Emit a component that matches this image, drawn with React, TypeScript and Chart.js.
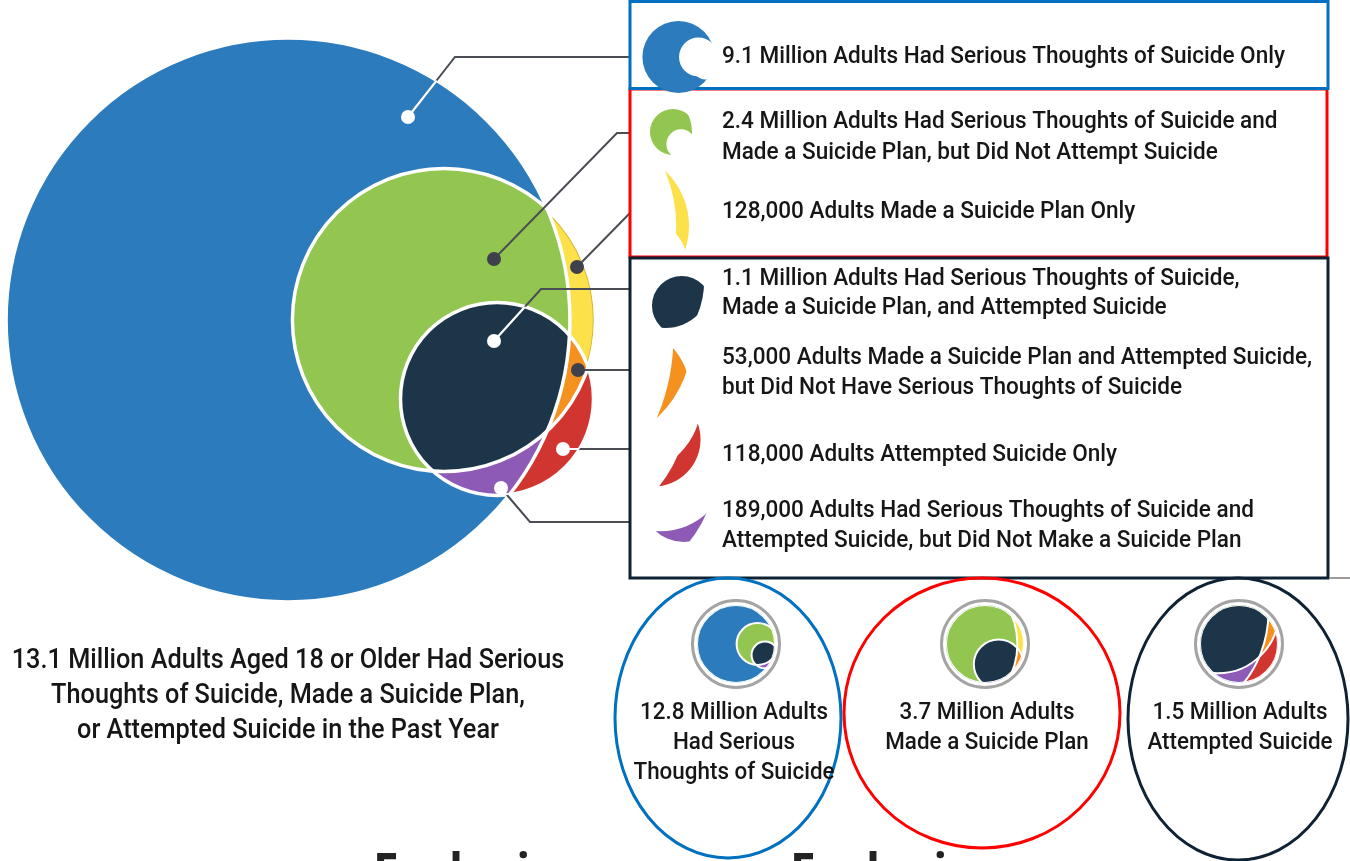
import { useEffect, useRef } from 'react';
import { Chart, registerables } from 'chart.js';

Chart.register(...registerables);

const CANVAS_W = 1350;
const CANVAS_H = 861;

// ---------------- data ----------------
const SET_TOTALS = [12.8, 3.7, 1.5]; // millions: thoughts, plan, attempt
const SET_CAPTIONS = [
  ['12.8 Million Adults', 'Had Serious', 'Thoughts of Suicide'],
  ['3.7 Million Adults', 'Made a Suicide Plan'],
  ['1.5 Million Adults', 'Attempted Suicide'],
];
const REGION_VALUES = [9.1, 2.4, 0.128, 1.1, 0.053, 0.118, 0.189]; // millions
// membership in [thoughts, plan, attempt]
const REGION_SETS = [
  [1, 0, 0],
  [1, 1, 0],
  [0, 1, 0],
  [1, 1, 1],
  [0, 1, 1],
  [0, 0, 1],
  [1, 0, 1],
];
const REGION_LABELS = [
  ['9.1 Million Adults Had Serious Thoughts of Suicide Only'],
  ['2.4 Million Adults Had Serious Thoughts of Suicide and', 'Made a Suicide Plan, but Did Not Attempt Suicide'],
  ['128,000 Adults Made a Suicide Plan Only'],
  ['1.1 Million Adults Had Serious Thoughts of Suicide,', 'Made a Suicide Plan, and Attempted Suicide'],
  ['53,000 Adults Made a Suicide Plan and Attempted Suicide,', 'but Did Not Have Serious Thoughts of Suicide'],
  ['118,000 Adults Attempted Suicide Only'],
  ['189,000 Adults Had Serious Thoughts of Suicide and', 'Attempted Suicide, but Did Not Make a Suicide Plan'],
];
const TOTAL_VALUE = 13.1;
const TOTAL_CAPTION = [
  `${TOTAL_VALUE} Million Adults Aged 18 or Older Had Serious`,
  'Thoughts of Suicide, Made a Suicide Plan,',
  'or Attempted Suicide in the Past Year',
];
const FOOTER_WORDS = ['Exclusive', 'Exclusive'];

// ---------------- layout & style ----------------
const REGION_COLORS = ['#2b7bbd', '#93c650', '#fce14b', '#1d3549', '#f4911f', '#d1352f', '#8d5bb6'];
const VENN_CENTERS = [
  { x: 288, y: 320 },
  { x: 444, y: 320 },
  { x: 497, y: 399 },
];
const RADIUS_PER_ROOT = 78.8; // px per sqrt(million) -> area proportional
const LEADER_PATHS = [
  [[408, 117], [455, 57], [630, 57]],
  [[494, 259], [617, 133], [630, 133]],
  [[577, 267], [630, 213]],
  [[494, 341], [541, 289], [630, 289]],
  [[578, 370], [630, 370]],
  [[563, 449], [630, 449]],
  [[501, 488], [530, 522], [630, 522]],
];
const DOT_ON_DARK = [true, false, false, true, false, true, true];
const LEGEND_TEXT_X = 722;
const LEGEND_BASELINES = [[63], [128, 159], [218], [285, 314], [364, 394], [461], [517, 547]];
const LEGEND_ICONS = [
  { x: 677, y: 57, w: 70, h: 72 },
  { x: 671, y: 132, w: 42, h: 62 },
  { x: 677, y: 210, w: 24, h: 82 },
  { x: 678, y: 302, w: 52, h: 54 },
  { x: 672, y: 383, w: 30, h: 78 },
  { x: 680, y: 455, w: 44, h: 62 },
  { x: 681, y: 528, w: 52, h: 28 },
];
const BOXES = [
  { x: 630, y: 89, w: 697, h: 168, color: '#ff0000' },
  { x: 630, y: 1.5, w: 698, h: 87, color: '#0070c0' },
  { x: 630, y: 258, w: 698, h: 320, color: '#0e2233' },
];
const SET_ICONS = [
  { x: 736, y: 644 },
  { x: 985, y: 644 },
  { x: 1239, y: 644 },
];
const SET_ICON_R = 39;
const SET_ELLIPSES = [
  { x: 728, y: 718, rx: 113, ry: 140, color: '#0070c0' },
  { x: 982, y: 713, rx: 138, ry: 135, color: '#ff0000' },
  { x: 1238, y: 719, rx: 110, ry: 141, color: '#0e2233' },
];
const SET_CAPTION_X = [734, 987, 1240];
const SET_CAPTION_Y0 = 719;
const SET_CAPTION_STEP = 30;
const TOTAL_CAPTION_X = 288;
const TOTAL_CAPTION_Y = [668, 703, 738];
const FOOTER_X = [373, 790];
const FOOTER_Y = 889;
const TEXT_COLOR = '#161616';
const FONT = 'Roboto';

type Circle = { x: number; y: number; r: number };
const BIG = 100000;

function getCircles(chart: any): Circle[] {
  const xs = chart.scales.x;
  const ys = chart.scales.y;
  const unit = xs.getPixelForValue(1) - xs.getPixelForValue(0);
  return VENN_CENTERS.map((c, i) => ({
    x: xs.getPixelForValue(c.x),
    y: ys.getPixelForValue(c.y),
    r: RADIUS_PER_ROOT * Math.sqrt(SET_TOTALS[i]) * unit,
  }));
}

function clipRegion(ctx: CanvasRenderingContext2D, circles: Circle[], m: number[]) {
  m.forEach((inside, i) => {
    const c = circles[i];
    ctx.beginPath();
    if (inside) {
      ctx.arc(c.x, c.y, c.r, 0, Math.PI * 2);
      ctx.clip();
    } else {
      ctx.rect(-BIG, -BIG, 2 * BIG, 2 * BIG);
      ctx.moveTo(c.x + c.r, c.y);
      ctx.arc(c.x, c.y, c.r, 0, Math.PI * 2);
      ctx.clip('evenodd');
    }
  });
}

function fillRegion(ctx: CanvasRenderingContext2D, circles: Circle[], m: number[], color: string) {
  ctx.save();
  clipRegion(ctx, circles, m);
  ctx.fillStyle = color;
  ctx.fillRect(-BIG, -BIG, 2 * BIG, 2 * BIG);
  ctx.restore();
}

function regionBox(circles: Circle[], m: number[]) {
  let x0 = Infinity, y0 = Infinity, x1 = -Infinity, y1 = -Infinity;
  for (let y = 0; y < CANVAS_H; y += 1) {
    for (let x = 0; x < 660; x += 1) {
      let ok = true;
      for (let i = 0; i < 3 && ok; i++) {
        const c = circles[i];
        const d = (x - c.x) ** 2 + (y - c.y) ** 2 < c.r * c.r;
        if (d !== !!m[i]) ok = false;
      }
      if (ok) {
        if (x < x0) x0 = x;
        if (x > x1) x1 = x;
        if (y < y0) y0 = y;
        if (y > y1) y1 = y;
      }
    }
  }
  return { x0, y0, x1, y1 };
}

function drawText(
  ctx: CanvasRenderingContext2D, s: string, x: number, y: number, size: number,
  align: CanvasTextAlign, sx: number, weight = '500', color = TEXT_COLOR, family = FONT,
) {
  ctx.save();
  ctx.font = `${weight} ${size}px ${family}`;
  ctx.fillStyle = color;
  ctx.textAlign = align;
  ctx.textBaseline = 'alphabetic';
  ctx.translate(x, y);
  ctx.scale(sx, 1);
  ctx.fillText(s, 0, 0);
  ctx.restore();
}

function measure(ctx: CanvasRenderingContext2D, s: string, size: number, weight = '500') {
  ctx.save();
  ctx.font = `${weight} ${size}px ${FONT}`;
  const w = ctx.measureText(s).width;
  ctx.restore();
  return w;
}

const vennPlugin = {
  id: 'venn',
  beforeDatasetsDraw(chart: any) {
    const ctx: CanvasRenderingContext2D = chart.ctx;
    const circles = getCircles(chart);
    REGION_SETS.forEach((m, k) => fillRegion(ctx, circles, m, REGION_COLORS[k]));
    // thin darker rim on the yellow crescent
    ctx.save();
    clipRegion(ctx, circles, REGION_SETS[2]);
    ctx.strokeStyle = '#d9b53c';
    ctx.lineWidth = 1.2;
    ctx.beginPath();
    ctx.arc(circles[1].x, circles[1].y, circles[1].r - 2.2, 0, Math.PI * 2);
    ctx.stroke();
    ctx.restore();
  },
  afterDatasetDraw(chart: any, args: any) {
    const ds = chart.data.datasets[args.index];
    if (ds.leaderOf === undefined || !DOT_ON_DARK[ds.leaderOf]) return;
    const ctx: CanvasRenderingContext2D = chart.ctx;
    const circles = getCircles(chart);
    const pts = args.meta.data;
    ctx.save();
    clipRegion(ctx, circles, REGION_SETS[ds.leaderOf]);
    ctx.strokeStyle = '#ffffff';
    ctx.lineWidth = 2.2;
    ctx.beginPath();
    pts.forEach((p: any, i: number) => (i === 0 ? ctx.moveTo(p.x, p.y) : ctx.lineTo(p.x, p.y)));
    ctx.stroke();
    ctx.restore();
  },
  afterDraw(chart: any) {
    const ctx: CanvasRenderingContext2D = chart.ctx;
    const circles = getCircles(chart);

    // legend boxes
    BOXES.forEach((b) => {
      ctx.save();
      ctx.strokeStyle = b.color;
      ctx.lineWidth = 3;
      ctx.strokeRect(b.x, b.y, b.w, b.h);
      ctx.restore();
    });
    ctx.save();
    ctx.strokeStyle = '#9a9a9a';
    ctx.lineWidth = 2;
    ctx.beginPath();
    ctx.moveTo(1330, 578);
    ctx.lineTo(1350, 578);
    ctx.stroke();
    ctx.restore();

    // legend icons (each region, scaled)
    REGION_SETS.forEach((m, k) => {
      const b = regionBox(circles, m);
      if (!isFinite(b.x0)) return;
      const bw = b.x1 - b.x0 + 1;
      const bh = b.y1 - b.y0 + 1;
      const I = LEGEND_ICONS[k];
      const s = Math.min(I.w / bw, I.h / bh);
      ctx.save();
      ctx.translate(I.x, I.y);
      ctx.scale(s, s);
      ctx.translate(-(b.x0 + b.x1) / 2, -(b.y0 + b.y1) / 2);
      fillRegion(ctx, circles, m, REGION_COLORS[k]);
      ctx.restore();
    });

    // legend texts
    const sx = 563 / measure(ctx, REGION_LABELS[0][0], 24);
    REGION_LABELS.forEach((lines, k) => {
      lines.forEach((ln, j) => drawText(ctx, ln, LEGEND_TEXT_X, LEGEND_BASELINES[k][j], 24, 'left', sx));
    });

    // total caption
    const capSize = (24 * 553) / (sx * measure(ctx, TOTAL_CAPTION[0], 24));
    TOTAL_CAPTION.forEach((ln, j) => drawText(ctx, ln, TOTAL_CAPTION_X, TOTAL_CAPTION_Y[j], capSize, 'center', sx));

    // set ellipses
    SET_ELLIPSES.forEach((e) => {
      ctx.save();
      ctx.strokeStyle = e.color;
      ctx.lineWidth = 3;
      ctx.beginPath();
      ctx.ellipse(e.x, e.y, e.rx, e.ry, 0, 0, Math.PI * 2);
      ctx.stroke();
      ctx.restore();
    });

    // set mini icons
    SET_ICONS.forEach((ic, i) => {
      const c = circles[i];
      const s = SET_ICON_R / c.r;
      ctx.save();
      ctx.translate(ic.x, ic.y);
      ctx.scale(s, s);
      ctx.translate(-c.x, -c.y);
      ctx.beginPath();
      ctx.arc(c.x, c.y, c.r, 0, Math.PI * 2);
      ctx.clip();
      REGION_SETS.forEach((m, k) => fillRegion(ctx, circles, m, REGION_COLORS[k]));
      ctx.strokeStyle = '#ffffff';
      ctx.lineWidth = 2 / s;
      circles.forEach((cc) => {
        ctx.beginPath();
        ctx.arc(cc.x, cc.y, cc.r, 0, Math.PI * 2);
        ctx.stroke();
      });
      ctx.restore();
      ctx.save();
      ctx.strokeStyle = '#a4a4a4';
      ctx.lineWidth = 3;
      ctx.beginPath();
      ctx.arc(ic.x, ic.y, SET_ICON_R + 4.5, 0, Math.PI * 2);
      ctx.stroke();
      ctx.restore();
    });

    // set captions
    const setSize = (24 * 188) / (sx * measure(ctx, SET_CAPTIONS[0][0], 24));
    SET_CAPTIONS.forEach((lines, i) => {
      lines.forEach((ln, j) =>
        drawText(ctx, ln, SET_CAPTION_X[i], SET_CAPTION_Y0 + j * SET_CAPTION_STEP, setSize, 'center', sx));
    });

    // footer words (cut off by page edge)
    FOOTER_WORDS.forEach((w, i) => drawText(ctx, w, FOOTER_X[i], FOOTER_Y, 50, 'left', 0.92, '700', '#232323', 'Open Sans'));
  },
};

export default function App() {
  const ref = useRef<HTMLCanvasElement | null>(null);

  useEffect(() => {
    document.body.style.margin = '0';
    const canvas = ref.current;
    if (!canvas) return;

    const setBubbles = {
      type: 'bubble',
      label: 'sets',
      data: SET_TOTALS.map((t, i) => ({ x: VENN_CENTERS[i].x, y: VENN_CENTERS[i].y, r: RADIUS_PER_ROOT * Math.sqrt(t) })),
      backgroundColor: 'rgba(0,0,0,0)',
      borderColor: '#ffffff',
      borderWidth: 3.5,
      order: 3,
    };
    const leaderLines = LEADER_PATHS.map((p, k) => ({
      type: 'line',
      label: `leader-${k}`,
      leaderOf: k,
      value: REGION_VALUES[k],
      data: p.map(([x, y]) => ({ x, y })),
      borderColor: '#4b4d55',
      borderWidth: 2,
      pointRadius: 0,
      fill: false,
      tension: 0,
      order: 2,
    }));
    const dots = {
      type: 'scatter',
      label: 'dots',
      data: LEADER_PATHS.map((p) => ({ x: p[0][0], y: p[0][1] })),
      pointRadius: 7,
      pointBorderWidth: 0,
      pointBackgroundColor: DOT_ON_DARK.map((d) => (d ? '#ffffff' : '#3e404b')),
      showLine: false,
      order: 1,
    };

    const chart = new Chart(canvas, {
      type: 'bubble',
      data: { datasets: [setBubbles, ...leaderLines, dots] as any },
      options: {
        animation: false,
        responsive: false,
        events: [],
        layout: { padding: 0, autoPadding: false } as any,
        scales: {
          x: { type: 'linear', min: 0, max: CANVAS_W, display: false },
          y: { type: 'linear', min: 0, max: CANVAS_H, reverse: true, display: false },
        },
        plugins: { legend: { display: false }, tooltip: { enabled: false } },
      },
      plugins: [vennPlugin as any],
    });
    return () => chart.destroy();
  }, []);

  return (
    <canvas
      ref={ref}
      width={CANVAS_W}
      height={CANVAS_H}
      style={{ display: 'block', width: CANVAS_W, height: CANVAS_H }}
    />
  );
}
